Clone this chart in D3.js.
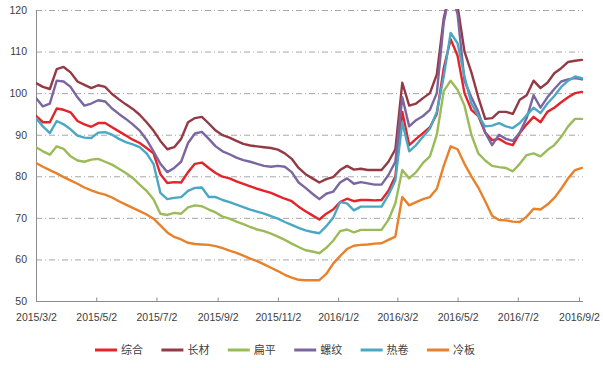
<!DOCTYPE html>
<html><head><meta charset="utf-8">
<script src="https://cdn.jsdelivr.net/npm/d3@7"></script>
<style>
html,body{margin:0;padding:0;background:#fff;}
svg{display:block;}
</style></head>
<body>
<svg id="chart" width="603" height="368"></svg>
<script>
const dates = ["2015-03-02","2015-03-09","2015-03-16","2015-03-23","2015-03-30","2015-04-06","2015-04-13","2015-04-20","2015-04-27","2015-05-04",
"2015-05-11","2015-05-18","2015-05-25","2015-06-01","2015-06-08","2015-06-15","2015-06-22","2015-06-29","2015-07-06","2015-07-13",
"2015-07-20","2015-07-27","2015-08-03","2015-08-10","2015-08-17","2015-08-24","2015-08-31","2015-09-07","2015-09-14","2015-09-21",
"2015-09-28","2015-10-05","2015-10-12","2015-10-19","2015-10-26","2015-11-02","2015-11-09","2015-11-16","2015-11-23","2015-11-30",
"2015-12-07","2015-12-14","2015-12-21","2015-12-28","2016-01-04","2016-01-11","2016-01-18","2016-01-25","2016-02-01","2016-02-08",
"2016-02-15","2016-02-22","2016-02-29","2016-03-07","2016-03-14","2016-03-21","2016-03-28","2016-04-04","2016-04-11","2016-04-18",
"2016-04-25","2016-05-02","2016-05-09","2016-05-16","2016-05-23","2016-05-30","2016-06-06","2016-06-13","2016-06-20","2016-06-27",
"2016-07-04","2016-07-11","2016-07-18","2016-07-25","2016-08-01","2016-08-08","2016-08-15","2016-08-22","2016-08-29","2016-09-05"];

const zonghe = [94.5,93.0,93.0,96.3,96.0,95.4,93.3,92.5,91.9,92.8,
92.8,91.8,90.8,89.8,88.8,88.0,86.8,85.5,80.5,78.4,
78.6,78.5,81.0,83.0,83.3,82.0,80.8,79.9,79.5,78.8,
78.2,77.6,77.0,76.5,76.0,75.3,74.6,74.0,72.7,71.6,
70.6,69.6,71.0,72.0,73.8,74.6,74.0,74.3,74.3,74.2,
74.3,76.5,80.0,95.5,87.5,89.0,90.4,91.8,95.0,106.0,
113.0,109.0,100.0,96.0,94.5,90.5,88.7,89.0,88.0,87.5,
90.4,92.5,94.3,93.0,95.5,96.5,97.8,99.0,100.0,100.3];

const changcai = [102.4,101.5,101.0,105.8,106.3,105.0,102.8,102.0,101.2,101.9,
101.5,99.8,98.5,97.3,96.2,94.8,93.0,91.0,88.5,86.5,
87.0,89.0,93.0,94.0,94.3,92.7,91.0,89.9,89.3,88.5,
87.8,87.4,87.2,87.0,86.8,86.4,85.5,84.2,82.0,80.5,
79.5,78.5,79.3,79.8,81.5,82.5,81.6,81.8,81.5,81.5,
81.5,83.5,86.5,102.5,97.0,97.5,98.8,100.0,104.5,118.0,
125.0,121.0,110.0,105.0,99.0,93.8,94.0,95.5,95.5,95.0,
98.4,99.5,103.0,101.2,102.5,104.8,106.0,107.5,107.8,108.0];

const bianping = [87.0,86.0,85.2,87.2,86.6,84.8,83.8,83.5,84.0,84.2,
83.5,82.8,81.8,80.8,79.6,78.0,76.5,74.5,71.0,70.7,
71.2,71.0,72.5,73.0,72.8,72.0,71.3,70.3,69.8,69.1,
68.5,67.8,67.2,66.8,66.2,65.5,64.7,63.8,63.0,62.2,
61.9,61.5,62.8,64.5,66.8,67.2,66.5,67.1,67.1,67.1,
67.1,69.5,73.5,81.5,79.5,81.0,83.2,84.8,90.0,100.5,
103.0,100.8,97.0,90.0,85.5,83.8,82.5,82.2,82.0,81.2,
83.0,85.1,85.5,84.8,86.3,87.5,89.5,92.0,93.8,93.8];

const luowen = [98.8,96.8,97.5,103.0,102.8,101.5,99.0,97.0,97.5,98.3,
98.0,96.3,95.0,93.8,92.5,91.0,88.8,86.0,83.0,81.0,
82.0,83.5,88.0,90.3,90.7,89.0,87.2,86.0,85.3,84.5,
83.9,83.5,83.0,82.5,82.3,82.5,82.3,81.0,78.5,77.2,
75.8,74.5,75.8,76.3,78.5,79.5,78.2,78.6,78.3,78.0,
78.0,80.3,83.5,99.0,92.0,93.5,94.5,96.0,100.0,117.0,
125.0,119.0,103.0,99.0,95.5,90.5,87.5,90.0,89.0,88.5,
90.5,94.0,99.5,96.5,99.0,101.0,102.8,103.3,103.6,103.3];

const rejuan = [94.0,92.0,90.4,93.3,92.5,91.3,89.8,89.3,89.2,90.5,
90.6,90.0,89.0,88.2,87.7,87.0,85.5,83.0,76.0,74.5,
74.8,75.0,76.5,77.2,77.3,75.0,75.0,74.3,73.8,73.2,
72.6,72.0,71.5,71.0,70.4,69.8,69.0,68.3,67.6,67.0,
66.6,66.3,68.0,70.0,73.8,73.5,71.8,72.7,72.7,72.7,
72.7,75.5,79.0,93.0,86.0,87.5,89.5,91.5,95.5,104.0,
114.5,112.0,104.0,97.5,94.5,92.0,92.2,92.8,92.0,91.6,
92.8,94.7,96.5,95.2,97.5,99.3,101.5,103.0,104.0,103.6];

const lengban = [83.2,82.3,81.5,80.7,79.8,79.0,78.2,77.3,76.6,76.0,
75.6,74.9,74.0,73.2,72.4,71.6,70.8,69.8,68.2,66.5,
65.4,64.8,64.0,63.7,63.6,63.5,63.2,62.7,62.1,61.6,
60.9,60.2,59.6,58.8,58.0,57.2,56.3,55.6,55.1,55.0,
55.0,55.0,56.5,59.0,60.8,62.5,63.3,63.5,63.6,63.8,
63.9,64.7,65.5,75.0,73.0,73.8,74.5,75.0,77.0,82.5,
87.2,86.5,83.0,80.0,77.3,74.0,70.5,69.5,69.4,69.1,
69.0,70.3,72.2,72.0,73.2,74.8,77.0,79.5,81.5,82.0];

const seriesNames = ["综合","长材","扁平","螺纹","热卷","冷板"];
const seriesColors = ["#e3242b","#943a44","#9bbb59","#7b66a0","#4aa8c4","#e8822a"];
const yTicks = [50,60,70,80,90,100,110,120];
const xTickLabels = ["2015/3/2","2015/5/2","2015/7/2","2015/9/2","2015/11/2","2016/1/2","2016/3/2","2016/5/2","2016/7/2","2016/9/2"];

const seriesValues = [zonghe, changcai, bianping, luowen, rejuan, lengban];
const parseDate = d3.timeParse("%Y-%m-%d");
const parseTick = d3.timeParse("%Y/%m/%d");
const xDates = dates.map(parseDate);
const tickDates = xTickLabels.map(parseTick);

const svg = d3.select("#chart");
const mLeft = 36, mTop = 10, mBottom = 301;

const x = d3.scaleTime()
  .domain([tickDates[0], tickDates[tickDates.length-1]])
  .range([mLeft, 579]);
const y = d3.scaleLinear().domain([50,120]).range([mBottom, mTop]);

// gridlines
svg.append("g").selectAll("line")
  .data(yTicks.filter(v => v > 50))
  .join("line")
  .attr("x1", mLeft).attr("x2", 583)
  .attr("y1", d => y(d) + 0.5).attr("y2", d => y(d) + 0.5)
  .attr("stroke", "#a6a6a6").attr("stroke-width", 1)
  .attr("stroke-dasharray", "6,3,1,3");

// y axis
const yAxis = svg.append("g").attr("transform", `translate(${mLeft},0)`)
  .call(d3.axisLeft(y).tickValues(yTicks).tickSize(0).tickPadding(9));
yAxis.select(".domain").attr("stroke", "#8c8c8c").attr("d", `M0.5,${mTop}V${mBottom}`);
yAxis.selectAll("text").attr("fill", "#404040").style("font", "10.5px 'Liberation Sans', Arial, sans-serif");

// x axis
const xAxis = svg.append("g").attr("transform", `translate(0,${mBottom + 0.5})`)
  .call(d3.axisBottom(x).tickValues(tickDates)
    .tickFormat((d, i) => xTickLabels[i])
    .tickSizeInner(-4).tickSizeOuter(0).tickPadding(12));
xAxis.select(".domain").attr("stroke", "#8c8c8c").attr("d", `M${mLeft},0H583`);
xAxis.selectAll(".tick line").attr("stroke", "#8c8c8c");
xAxis.selectAll("text").attr("fill", "#404040").style("font", "10.5px 'Liberation Sans', Arial, sans-serif");

// clip
svg.append("defs").append("clipPath").attr("id", "plotclip")
  .append("rect").attr("x", mLeft).attr("y", mTop - 1).attr("width", 560).attr("height", mBottom - mTop + 1);

const line = d3.line()
  .x((d, i) => x(xDates[i]))
  .y(d => y(d));

svg.append("g").attr("clip-path", "url(#plotclip)")
  .selectAll("path")
  .data(seriesValues)
  .join("path")
  .attr("d", d => line(d))
  .attr("fill", "none")
  .attr("stroke", (d, i) => seriesColors[i])
  .attr("stroke-width", 2.4)
  .attr("stroke-linejoin", "round")
  .attr("stroke-linecap", "round");

// legend
const legendX = d3.scalePoint().domain(seriesNames).range([95, 427]);
const lg = svg.append("g").selectAll("g").data(seriesNames).join("g")
  .attr("transform", d => `translate(${legendX(d)},350)`);
lg.append("line").attr("x1", 0).attr("x2", 22).attr("y1", 0).attr("y2", 0)
  .attr("stroke", (d, i) => seriesColors[i]).attr("stroke-width", 3);
lg.append("text").attr("x", 26).attr("y", 4)
  .attr("fill", "#404040")
  .style("font", "11px 'Noto Sans CJK SC', sans-serif")
  .text(d => d);
</script>
</body></html>
